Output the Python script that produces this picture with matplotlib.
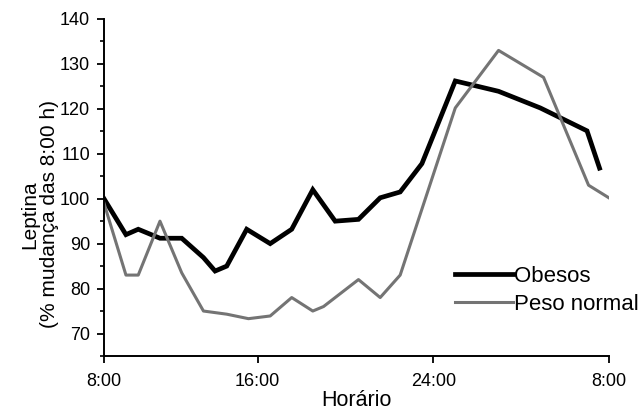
import matplotlib.pyplot as plt
from matplotlib.ticker import MultipleLocator

# hours along the axis (left edge of axis = first sample)
hours_obesos = [9.0, 10.0, 10.56, 11.55, 12.54, 13.53, 14.06, 14.59, 15.5, 16.57,
                17.55, 18.51, 19.53, 20.59, 21.58, 22.49, 23.48, 25.0, 26.97,
                28.87, 31.0, 31.57]
obesos = [100, 92, 93.2, 91.2, 91.2, 86.9, 83.9, 85.0, 93.2, 90.0,
          93.2, 102.0, 95.0, 95.4, 100.2, 101.5, 107.8, 126.2, 123.9,
          120.2, 115.1, 106.8]

hours_normal = [9.0, 10.0, 10.56, 11.55, 12.54, 13.53, 14.59, 15.58, 16.57,
                17.55, 18.51, 19.0, 20.59, 21.58, 22.49, 25.0, 26.97, 29.02,
                31.07, 32.06]
normal = [99, 83, 83, 95, 83.5, 75, 74.3, 73.3, 73.9,
          78, 75, 76, 82, 78, 83, 120.2, 133, 127,
          103, 100]

tick_pos = [9, 16, 24, 32]
tick_labels = ['8:00', '16:00', '24:00', '8:00']

plt.rcParams['font.family'] = ['Liberation Sans', 'DejaVu Sans']

fig = plt.figure(figsize=(6.38, 4.12), dpi=100)
ax = fig.add_axes([0.163, 0.136, 0.7915, 0.818])

ax.plot(hours_obesos, obesos, color='black', lw=3.4, label='Obesos',
        solid_joinstyle='miter')
ax.plot(hours_normal, normal, color='#747474', lw=2.2, label='Peso normal')

ax.set_xlim(9, 32)
ax.set_ylim(65, 140)
ax.set_xticks(tick_pos)
ax.set_xticklabels(tick_labels)
ax.yaxis.set_major_locator(MultipleLocator(10))
ax.yaxis.set_minor_locator(MultipleLocator(5))
ax.set_yticks(range(70, 141, 10))
ax.tick_params(axis='both', labelsize=13, width=1.3, length=5, direction='out')
ax.tick_params(axis='y', which='minor', width=1.2, length=3)
ax.tick_params(axis='x', pad=7)
ax.tick_params(axis='y', pad=5)

for s in ['top', 'right']:
    ax.spines[s].set_visible(False)
for s in ['left', 'bottom']:
    ax.spines[s].set_linewidth(1.4)

ax.set_xlabel('Horário', fontsize=15.5, labelpad=0)
ax.set_ylabel('Leptina\n(% mudança das 8:00 h)', fontsize=15, linespacing=1.05)
ax.yaxis.set_label_coords(-0.09, 0.42)

ax.legend(loc='lower right', bbox_to_anchor=(1.099, 0.062), frameon=False,
          fontsize=16, handlelength=2.6, handletextpad=0.05, labelspacing=0.33)

fig.savefig('out.png')
